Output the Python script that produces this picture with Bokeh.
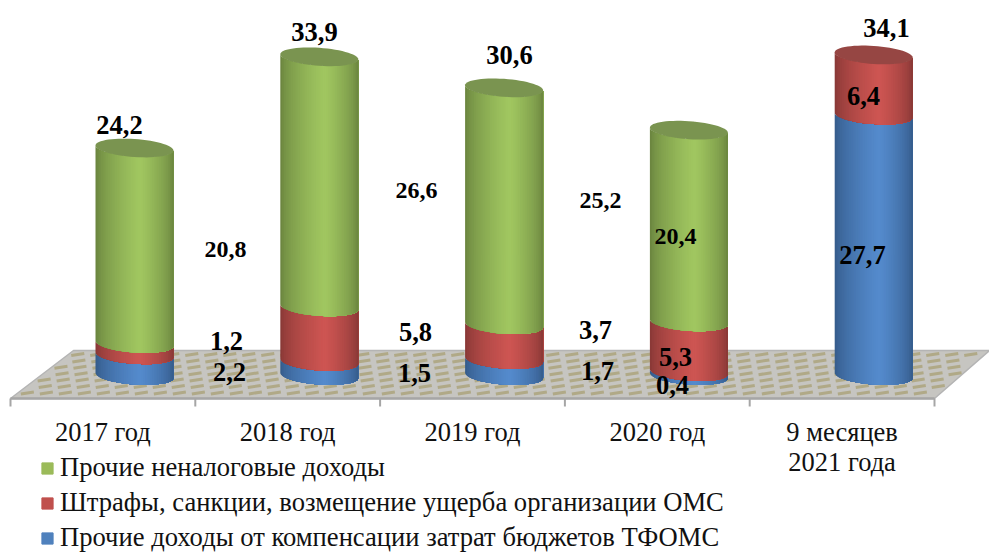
import numpy as np
from bokeh.core.properties import value
from bokeh.embed import file_html
from bokeh.models import ColumnDataSource, Legend, LegendItem, Range1d
from bokeh.plotting import figure
from bokeh.resources import INLINE

categories = ["2017 год", "2018 год", "2019 год", "2020 год", "9 месяцев\n2021 года"]
blue_values = [2.2, 1.5, 1.7, 0.4, 27.7]
red_values = [1.2, 5.8, 3.7, 5.3, 6.4]
green_values = [20.8, 26.6, 25.2, 20.4, 0.0]
totals = [24.2, 33.9, 30.6, None, 34.1]
series_names = ["Прочие неналоговые доходы",
                "Штрафы, санкции, возмещение ущерба организации ОМС",
                "Прочие доходы от компенсации затрат бюджетов ТФОМС"]

W, H = 989, 552
SLOT = 184.8
X0 = 10
PXU = 9.4
BASE = 375
sx = lambda px: (np.asarray(px, float) - X0) / SLOT
sy = lambda py: (BASE - np.asarray(py, float)) / PXU

p = figure(width=W, height=H, output_backend="svg", toolbar_location=None,
           x_range=Range1d(float(sx(0)), float(sx(W))), y_range=Range1d(float(sy(H)), float(sy(0))),
           x_axis_type=None, y_axis_type=None, min_border=0, outline_line_color=None,
           background_fill_color=None, border_fill_color=None)
p.margin = (0, 0, 0, 0)
p.grid.visible = False

# floor
p.patch(sx([73, 989, 934, 10]), sy([350, 350, 398, 398]), fill_color="#c6c5c1", line_color="#b4b4b4", line_width=1.5)
xs0, xs1, ys0, ys1 = [], [], [], []
for r, py in enumerate(np.arange(354, 397, 6.4)):
    left = 10 + (398 - py) * 63 / 48
    right = 934 + (398 - py) * 55 / 48
    x = left + (r % 2) * 9.5 + 3
    while x + 13 < right:
        xs0.append(x); xs1.append(x + 13); ys0.append(py + 1); ys1.append(py - 1)
        x += 19
p.segment(sx(xs0), sy(ys0), sx(xs1), sy(ys1), line_color="#b0a987", line_width=3)

# axis line, ticks and category labels
edges_idx = list(range(6))
p.segment(edges_idx, [sy(398)] * 6, edges_idx, [sy(406)] * 6, line_color="#a6a6a6", line_width=2)
p.line([0, 5], [sy(398), sy(398)], line_color="#a6a6a6", line_width=2.5)
p.text([i + 0.5 for i in range(4)], [sy(431)] * 4, text=categories[:4],
       text_font=value("Liberation Serif"), text_font_size="26.5px", text_align="center",
       text_baseline="middle", text_color="#111111")
p.text([4.5], [sy(446.5)], text=[categories[4]],
       text_font=value("Liberation Serif"), text_font_size="26.5px", text_align="center",
       text_baseline="middle", text_color="#111111", text_line_height=0.97)

# cylinders
CX = [i + 0.671 for i in range(5)]
HALF = 39 / SLOT
B = 9 / PXU
K = 2.6 / PXU
N = 44
light = {"blue": (84, 138, 204), "red": (205, 85, 82), "green": (160, 198, 96)}
dark = {"blue": (48, 84, 128), "red": (125, 52, 50), "green": (98, 122, 58)}
top = {"blue": "#4a76ad", "red": "#964643", "green": "#7a9450"}

def shade(name, u):
    t = (u + 1) / 2
    peak = 0.57
    f = t / peak if t < peak else (1 - t) / (1 - peak)
    f = min(1.0, 0.08 + 0.95 * f ** 0.6)
    return "#%02x%02x%02x" % tuple(int(d + (l - d) * f) for d, l in zip(dark[name], light[name]))

px_, py_, col_ = [], [], []
def rim(y, u):
    return y - B * np.sqrt(np.maximum(0, 1 - u * u)) - K * u

strip_edges = np.linspace(-1, 1, N + 1)
round_u = np.sin(np.linspace(-np.pi / 2, np.pi / 2, 41))
for i in range(5):
    y = 0.0
    segs = [("blue", blue_values[i]), ("red", red_values[i]), ("green", green_values[i])]
    for name, v in segs:
        if v <= 0:
            continue
        # painted left to right; every strip also covers the rest, so no seams show
        for k in range(N):
            us = np.r_[strip_edges[k], round_u[round_u > strip_edges[k]]]
            low = rim(y, us)
            high = rim(y + v, us)
            px_.append(CX[i] + np.r_[us, us[::-1]] * HALF)
            py_.append(np.r_[low, high[::-1]])
            col_.append(shade(name, (strip_edges[k] + strip_edges[k + 1]) / 2))
        y += v
    name = [n for n, v in segs if v > 0][-1]
    t = np.linspace(0, 2 * np.pi, 61)
    px_.append(CX[i] + np.cos(t) * HALF)
    py_.append(y + B * np.sin(t) - K * np.cos(t))
    col_.append(top[name])
p.patches(px_, py_, fill_color=col_, line_color=None)

# data labels
label_vals = [totals[0], green_values[0], red_values[0], blue_values[0],
              totals[1], green_values[1], red_values[1], blue_values[1],
              totals[2], green_values[2], red_values[2], blue_values[2],
              green_values[3], red_values[3], blue_values[3],
              totals[4], red_values[4], blue_values[4]]
label_px = [119, 225, 226, 229, 314, 416, 415, 414, 509, 600, 595, 597, 675, 675, 672, 886, 863, 862]
label_py = [124, 249, 340, 371, 31, 190, 331, 372, 54, 200, 329, 370, 236, 356, 384, 27, 95, 254]
small = [1, 5, 9, 12]
sizes = ["24px" if j in small else "26.5px" for j in range(len(label_vals))]
src = ColumnDataSource(dict(x=sx(label_px), y=sy(label_py),
                            t=[f"{v:.1f}".replace(".", ",") for v in label_vals], s=sizes))
p.text("x", "y", text="t", source=src, text_font=value("Liberation Serif"), text_font_style="bold",
       text_font_size="s", text_align="center", text_baseline="middle", text_color="#000000")

# legend (swatches come from off-range quads)
colors = ["#9bbb59", "#c0504d", "#4f81bd"]
items = []
for name, c in zip(series_names, colors):
    r = p.quad(left=[-9], right=[-8], bottom=[-90], top=[-80], fill_color=c, line_color=c)
    items.append(LegendItem(label=name, renderers=[r]))
leg = Legend(items=items, location=(40, -1), orientation="vertical", border_line_color=None,
             background_fill_alpha=0, margin=0, padding=0, glyph_width=14, glyph_height=14,
             label_standoff=6, spacing=4, label_text_font="Liberation Serif",
             label_text_font_size="26.6px", label_text_color="#111111", label_text_baseline="middle")
p.add_layout(leg, "center")

open("out.html", "w").write(file_html(p, INLINE))
